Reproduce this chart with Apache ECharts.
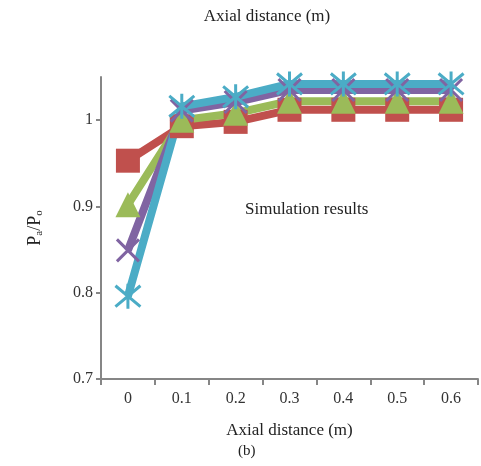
<!DOCTYPE html>
<html>
<head>
<meta charset="utf-8">
<script src="https://cdn.jsdelivr.net/npm/echarts@6/dist/echarts.min.js"></script>
<style>
  html, body { margin: 0; padding: 0; background: #fff; }
  #chart { width: 481px; height: 466px; }
</style>
</head>
<body>
<div id="chart"></div>
<script>
const categories = ['0', '0.1', '0.2', '0.3', '0.4', '0.5', '0.6'];
const redSeries = [0.953, 0.993, 0.998, 1.012, 1.012, 1.012, 1.012];
const greenSeries = [0.902, 1.0, 1.008, 1.022, 1.022, 1.022, 1.022];
const purpleSeries = [0.849, 1.011, 1.021, 1.035, 1.035, 1.035, 1.035];
const cyanSeries = [0.796, 1.016, 1.027, 1.042, 1.042, 1.042, 1.042];

const serif = '"Liberation Serif", "DejaVu Serif", serif';
const xMark = 'path://M0,0 L10,10 M10,0 L0,10';
const starMark = 'path://M0,0 L10,10 M10,0 L0,10 M5,-1 L5,11';

const chart = echarts.init(document.getElementById('chart'));

function line(name, data, color, symbol, size, stroke) {
  return {
    name: name,
    type: 'line',
    data: data,
    symbol: symbol,
    symbolSize: size,
    showAllSymbol: true,
    lineStyle: { color: color, width: 8 },
    itemStyle: stroke
      ? { color: color, borderColor: color, borderWidth: 3 }
      : { color: color },
    emphasis: { disabled: true },
    z: 2
  };
}

const option = {
  animation: false,
  title: {
    text: 'Axial distance (m)',
    left: 262,
    top: 3,
    textAlign: 'center',
    textStyle: { fontFamily: serif, fontSize: 17, fontWeight: 'normal', color: '#222' }
  },
  grid: { left: 101, right: 3, top: 77, bottom: 87 },
  xAxis: {
    type: 'category',
    data: categories,
    boundaryGap: true,
    name: 'Axial distance (m)',
    nameLocation: 'middle',
    nameGap: 43,
    nameTextStyle: { fontFamily: serif, fontSize: 17, color: '#222' },
    axisLine: { lineStyle: { color: '#868686', width: 2 } },
    axisTick: { show: true, interval: 0, length: 6, lineStyle: { color: '#868686', width: 2 } },
    axisLabel: { fontFamily: serif, fontSize: 16, color: '#333', margin: 12 }
  },
  yAxis: {
    type: 'value',
    min: 0.7,
    max: 1.05,
    interval: 0.1,
    name: '{p|P}{s|a}{p|/P}{s|o}',
    nameLocation: 'middle',
    nameRotate: 90,
    nameGap: 56,
    nameTextStyle: {
      rich: {
        p: { fontFamily: serif, fontSize: 18, color: '#222' },
        s: { fontFamily: serif, fontSize: 11, color: '#222', verticalAlign: 'bottom', padding: [9, 0, 0, 0] }
      }
    },
    splitLine: { show: false },
    axisLine: { show: true, lineStyle: { color: '#868686', width: 2 } },
    axisTick: { show: true, length: 5, lineStyle: { color: '#868686', width: 2 } },
    axisLabel: {
      fontFamily: serif, fontSize: 16, color: '#333', margin: 8,
      showMaxLabel: false,
      formatter: function (v) { return Math.abs(v * 10 - Math.round(v * 10)) < 1e-6 ? String(Math.round(v * 10) / 10) : ''; }
    }
  },
  graphic: [{
    type: 'text',
    left: 245,
    top: 201,
    style: { text: 'Simulation results', font: '17px ' + serif, fill: '#222' }
  }, {
    type: 'text',
    left: 238,
    top: 444,
    style: { text: '(b)', font: '15px ' + serif, fill: '#222' }
  }],
  series: [
    line('red', redSeries, '#C0504D', 'rect', 24, false),
    line('green', greenSeries, '#9BBB59', 'triangle', 25, false),
    line('purple', purpleSeries, '#8064A2', xMark, 22, true),
    line('cyan', cyanSeries, '#4BACC6', starMark, 25, true)
  ]
};

chart.setOption(option);
</script>
</body>
</html>
